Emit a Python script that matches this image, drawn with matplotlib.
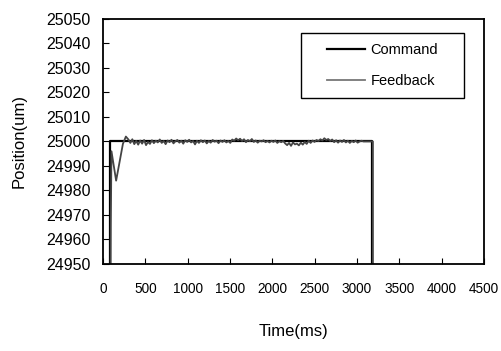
import numpy as np
import matplotlib
matplotlib.use('Agg')
import matplotlib.pyplot as plt
from matplotlib.patches import Rectangle

plt.rcParams['font.family'] = ['Liberation Sans', 'DejaVu Sans']

# command: step up at ~80 ms, back down at ~3180 ms
cmd_t = [0, 80, 80, 3180, 3180, 4500]
cmd_pos = [24900, 24900, 25000, 25000, 24900, 24900]

# feedback: start-up transient
fb_start_t = [0, 85, 92, 100, 155, 235, 270]
fb_start_pos = [24900, 24900, 24966, 24996, 24984, 24999, 25002]

# feedback: settled wobble around 25000
fb_wobble = [0.8, -0.6, 0.9, -1.1, 0.2, -1.3, 0.4, -0.9, 0.6, -1.5,
             -0.2, -1.0, 0.5, -0.7, 0.3, -0.4, 0.8, -0.6, 0.2, -1.1,
             0.4, -0.3, 0.7, -0.8, 0.1, 0.6, -0.5, 0.3, -0.9, 0.5,
             -0.2, 0.7, -0.4, 0.2, -1.2, 0.3, -0.6, 0.5, -0.3, 0.4,
             -0.8, 0.2, -0.5, 0.6, -0.1, 0.3, -0.7, 0.4, -0.2, 0.5,
             -0.4, 0.2, -0.6, 0.8, 0.3, 1.2, 0.5, 1.1, 0.2, 0.9,
             -0.3, 0.6, 0.1, 1.0, -0.2, 0.4, -0.5, 0.3, 0.0, 0.5,
             -0.3, 0.2, -0.4, 0.3, -0.2, 0.4, -0.6, 0.1, -0.3, 0.2,
             -0.8, -1.5, -0.6, -1.8, -0.4, -1.2, -0.9, -1.6, -0.5, -1.3,
             -0.2, -1.0, 0.3, -0.6, 0.4, -0.2, 0.6, 0.2, 0.9, 0.4,
             1.3, 0.6, 1.0, 0.2, 0.8, -0.3, 0.5, -0.5, 0.4, -0.2,
             0.6, -0.4, 0.3, -0.6, 0.2, -0.3, 0.4, -0.5, 0.0, 0.3,
             0.0, 0.0, 0.0, 0.0, 0.0]
fb_wobble_t = np.linspace(300, 3170, len(fb_wobble))

fb_end_t = [3188, 3188, 4500]
fb_end_pos = [25000, 24900, 24900]

fb_t = np.concatenate([fb_start_t, fb_wobble_t, fb_end_t])
fb_pos = np.concatenate([fb_start_pos, 25000 + np.array(fb_wobble), fb_end_pos])

fig = plt.figure(figsize=(5.01, 3.51), dpi=100)
ax = fig.add_axes([0.2056, 0.248, 0.7604, 0.698])

ax.plot(cmd_t, cmd_pos, color='black', lw=1.6, label='Command')
ax.plot(fb_t, fb_pos, color='#444444', lw=1.3, label='Feedback')

ax.set_xlim(0, 4500)
ax.set_ylim(24950, 25050)
ax.set_xticks(np.arange(0, 4501, 500))
ax.set_yticks(np.arange(24950, 25051, 10))
ax.tick_params(axis='x', direction='in', length=4, pad=13, labelsize=9.8)
ax.tick_params(axis='y', direction='in', length=4, pad=9, labelsize=11.5)
for s in ax.spines.values():
    s.set_linewidth(1.3)

ax.set_xlabel('Time(ms)', fontsize=12, labelpad=20)
ax.set_ylabel('Position(um)', fontsize=12, labelpad=14)

# legend box
box = (0.52, 0.678, 0.428, 0.265)
ax.add_patch(Rectangle(box[:2], box[2], box[3], transform=ax.transAxes,
                       fill=False, edgecolor='black', lw=1.0, zorder=5))
leg = ax.legend(loc='center', bbox_to_anchor=box, frameon=False, fontsize=10.5,
                handlelength=2.6, handletextpad=0.4, labelspacing=1.2)
leg.get_lines()[1].set_color('#777777')

fig.savefig('out.png', dpi=100)
